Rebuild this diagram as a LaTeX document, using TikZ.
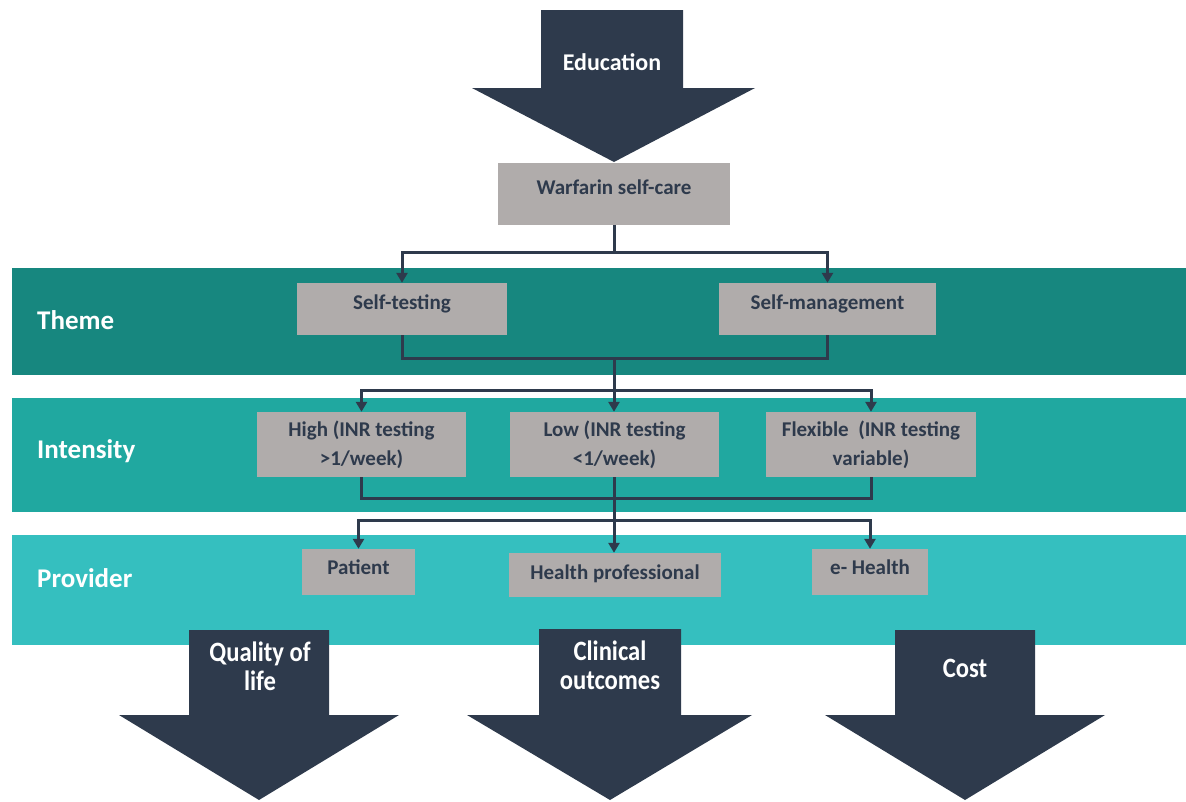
\documentclass[tikz,border=0pt]{standalone}
\usepackage{fontspec}
\setmainfont{Carlito}
\usetikzlibrary{arrows.meta}
\definecolor{navy}{HTML}{2E3A4C}
\definecolor{gboxc}{HTML}{B0ACAB}
\definecolor{bandA}{HTML}{17877F}
\definecolor{bandB}{HTML}{20A8A0}
\definecolor{bandC}{HTML}{35BFBF}
\newcommand\narrowtxt[1]{\scalebox{0.88}[1]{#1}}
\begin{document}
\begin{tikzpicture}[x=1pt,y=-1pt,
  gb/.style={fill=gboxc, text=navy, font=\fontsize{21}{29}\selectfont\bfseries, align=center, inner sep=0pt},
  conn/.style={draw=navy, line width=3pt},
  arr/.style={conn, -{Triangle[length=10pt,width=11pt]}},
  bandlabel/.style={text=white, font=\fontsize{27}{32}\selectfont\bfseries, anchor=west, inner sep=0pt},
  bigarrow/.style={fill=navy},
  arrtext/.style={text=white, font=\fontsize{28}{29}\selectfont\bfseries, align=center, inner sep=0pt}
]
\useasboundingbox (0,0) rectangle (1186,801);
% bands
\fill[bandA] (12,268) rectangle (1186,375);
\fill[bandB] (12,398) rectangle (1186,512);
\fill[bandC] (12,535) rectangle (1186,645);
\node[bandlabel] (lt) at (37,320) {Theme};
\node[bandlabel] (li) at (37,451) {Intensity};
\node[bandlabel] (lp) at (37,578) {Provider};
% top arrow
\fill[bigarrow] (541,10) -- (683,10) -- (683,88) -- (755,88) -- (614,162) -- (472,88) -- (541,88) -- cycle;
\node[arrtext, font=\fontsize{24}{28}\selectfont\bfseries] (edu) at (612,62) {Education};
% boxes
\node[gb, minimum width=232pt, minimum height=62pt, text height=14pt, text depth=14pt] (W) at (614,194) {Warfarin self-care};
\node[gb, minimum width=210pt, minimum height=52pt, text height=14pt, text depth=14pt] (st) at (402,309) {Self-testing};
\node[gb, minimum width=217pt, minimum height=52pt, text height=14pt, text depth=14pt] (sm) at (827.5,309) {Self-management};
\node[gb, minimum width=209pt, minimum height=65pt] (hi) at (361.5,444.5) {High (INR testing\\ {>}1/week)};
\node[gb, minimum width=209pt, minimum height=65pt] (lo) at (614.5,444.5) {Low (INR testing\\ {<}1/week)};
\node[gb, minimum width=210pt, minimum height=65pt] (fl) at (871,444.5) {Flexible~ (INR testing\\ variable)};
\node[gb, minimum width=113pt, minimum height=46pt, text height=14pt, text depth=10pt] (pa) at (358.5,572) {Patient};
\node[gb, minimum width=212pt, minimum height=44pt, text height=14pt, text depth=6pt] (hp) at (615,575) {Health professional};
\node[gb, minimum width=116pt, minimum height=46pt, text height=14pt, text depth=10pt] (eh) at (870,572) {e- Health};
% connectors
\coordinate (j1) at (614,252);
\draw[conn] (W.south) -- (j1);
\draw[arr] (j1) -| (st.north);
\draw[arr] (j1) -| (sm.north);
\coordinate (j2) at (614,358);
\draw[conn] (st.south) |- (j2) -| (sm.south);
\coordinate (j3) at (614,390);
\draw[conn] (j2) -- (j3);
\draw[arr] (j3) -| (hi.north);
\draw[arr] (j3) -- (j3 |- lo.north);
\draw[arr] (j3) -| (fl.north);
\coordinate (j4) at (614,498);
\draw[conn] (hi.south) |- (j4) -| (fl.south);
\draw[conn] (j4 |- lo.south) -- (j4);
\coordinate (j5) at (614,520);
\draw[conn] (j4) -- (j5);
\draw[arr] (j5) -- (j5 |- hp.north);
\draw[arr] (j5) -| (pa.north);
\draw[arr] (j5) -| (eh.north);
% bottom arrows
\fill[bigarrow] (189,630) -- (329,630) -- (329,715) -- (399,715) -- (259,800) -- (119,715) -- (189,715) -- cycle;
\fill[bigarrow] (539,629) -- (681,629) -- (681,715) -- (752,715) -- (610,800) -- (467,715) -- (539,715) -- cycle;
\fill[bigarrow] (895,630) -- (1035,630) -- (1035,715) -- (1105,715) -- (965,800) -- (825,715) -- (895,715) -- cycle;
\node[arrtext] (qol) at (260,666) {\narrowtxt{Quality of}\\\narrowtxt{life}};
\node[arrtext] (co) at (610,665) {\narrowtxt{Clinical}\\\narrowtxt{outcomes}};
\node[arrtext] (cost) at (965,668) {\narrowtxt{Cost}};
\end{tikzpicture}
\end{document}
